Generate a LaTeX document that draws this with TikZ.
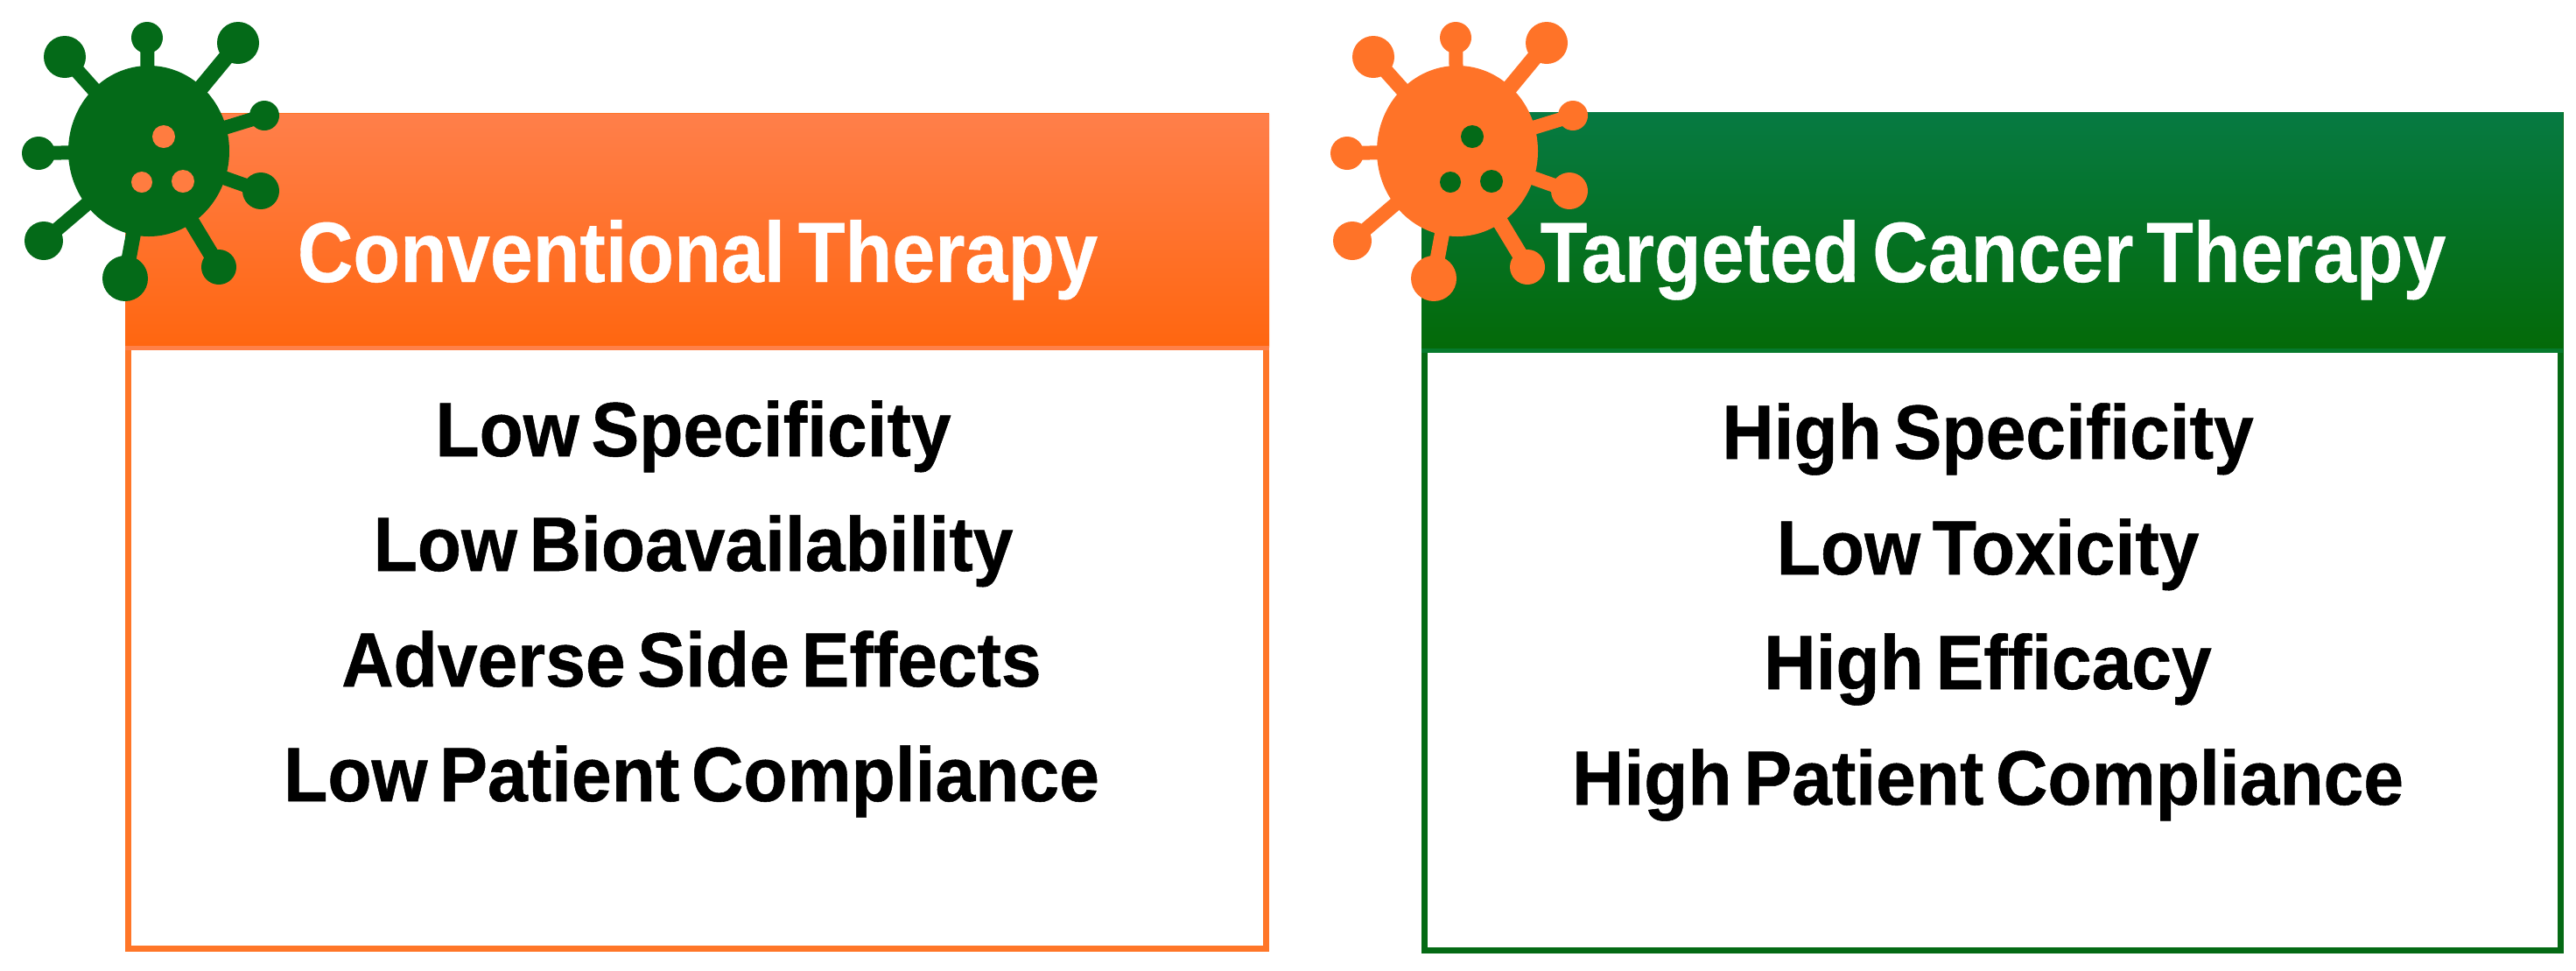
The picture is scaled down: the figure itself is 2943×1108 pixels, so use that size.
\documentclass[tikz,border=0pt]{standalone}
\usepackage{fontspec}
\newfontfamily\headfont{Liberation Sans Bold}[FakeStretch=0.9,FakeBold=0.4,WordSpace=0.6]
\newfontfamily\bodyfont{Liberation Sans Bold}[FakeStretch=0.935,FakeBold=0.6,WordSpace=0.6]
\definecolor{orangeline}{HTML}{FF7628}
\definecolor{orangeedge}{HTML}{FF8048}
\definecolor{orangetop}{HTML}{FF7F4A}
\definecolor{orangebot}{HTML}{FF6610}
\definecolor{greenline}{HTML}{046A14}
\definecolor{greenedge}{HTML}{067A2C}
\definecolor{greentop}{HTML}{067A42}
\definecolor{greenbot}{HTML}{046A08}
\definecolor{virusgreen}{HTML}{046A18}
\definecolor{virusorange}{HTML}{FF7328}
\definecolor{dotorange}{HTML}{FF7C40}
\tikzset{
  x=0.01cm,y=-0.01cm,
  frame/.style={line width=0.07cm,fill=white,miter limit=10},
  headtext/.style={font=\headfont\fontsize{27.8}{32}\selectfont,text=white,inner sep=0,anchor=base},
  bodytext/.style={font=\bodyfont\fontsize{25}{30}\selectfont,text=black,inner sep=0,anchor=base},
  pics/virus/.style n args={2}{code={
    \fill[#1] (170,172.5) ellipse[x radius=92,y radius=97.5];
    \foreach \px/\py/\pr/\pw in {168/43/18/16,272/49/24/18,302/132/17/16,298/218/21/16,250/305/20/18,143/318/26/17,50/275/22/16,44/175/19/16,74/65/24/17}{
      \fill[#1] (\px,\py) circle[radius=\pr];
      \draw[#1,line width=\pw*0.01cm] (\px,\py) -- (170,172.5);
    }
    \foreach \px/\py/\pr in {187/156/13,162/208/12,209/207/13}{
      \fill[#2] (\px,\py) circle[radius=\pr];
    }
  }}
}
\begin{document}
\begin{tikzpicture}
\useasboundingbox (0,0) rectangle (2943,1108);
\draw[frame,draw=orangeline] (146.5,132) rectangle (1446.5,1083);
\shade[top color=orangetop,bottom color=orangebot] (143,130) rectangle (1450,396);
\draw[orangeedge,line width=0.05cm] (143,397) -- (1450,397);
\draw[frame,draw=greenline] (1627.5,131) rectangle (2925.5,1085.5);
\shade[top color=greentop,bottom color=greenbot] (1624,128) rectangle (2928,399);
\draw[greenedge,line width=0.05cm] (1624,400) -- (2928,400);
\pic at (0,0) {virus={virusgreen}{dotorange}};
\pic at (1495,0) {virus={virusorange}{virusgreen}};
\node[headtext] (h1) at (797,322) {Conventional Therapy};
\node[headtext] (h2) at (2277,322) {Targeted Cancer Therapy};
\node[bodytext] (a1) at (792,521) {Low Specificity};
\node[bodytext] (a2) at (792,652) {Low Bioavailability};
\node[bodytext] (a3) at (790,784) {Adverse Side Effects};
\node[bodytext] (a4) at (790,915) {Low Patient Compliance};
\node[bodytext] (b1) at (2271,524) {High Specificity};
\node[bodytext] (b2) at (2271,656) {Low Toxicity};
\node[bodytext] (b3) at (2271,787) {High Efficacy};
\node[bodytext] (b4) at (2271,919) {High Patient Compliance};
\end{tikzpicture}
\end{document}
